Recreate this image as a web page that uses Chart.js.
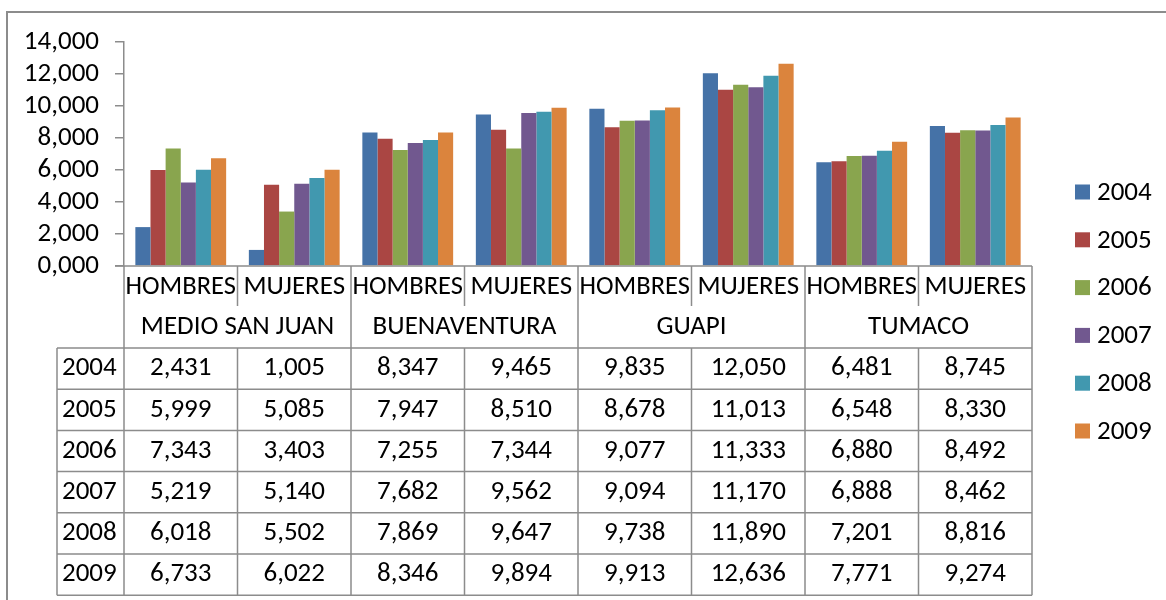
<!DOCTYPE html>
<html>
<head>
<meta charset="utf-8">
<script src="https://cdn.jsdelivr.net/npm/chart.js@4.4.0/dist/chart.umd.min.js"></script>
<style>
	body { margin: 0; background: #fff; }
	canvas { display: block; }
</style>
</head>
<body>
<canvas id="myChart" width="1166" height="600"></canvas>
<script>
var years = ['2004', '2005', '2006', '2007', '2008', '2009'];
var categories = ['HOMBRES', 'MUJERES', 'HOMBRES', 'MUJERES', 'HOMBRES', 'MUJERES', 'HOMBRES', 'MUJERES'];
var groups = ['MEDIO SAN JUAN', 'BUENAVENTURA', 'GUAPI', 'TUMACO'];

var v2004 = [2431, 1005, 8347, 9465, 9835, 12050, 6481, 8745];
var v2005 = [5999, 5085, 7947, 8510, 8678, 11013, 6548, 8330];
var v2006 = [7343, 3403, 7255, 7344, 9077, 11333, 6880, 8492];
var v2007 = [5219, 5140, 7682, 9562, 9094, 11170, 6888, 8462];
var v2008 = [6018, 5502, 7869, 9647, 9738, 11890, 7201, 8816];
var v2009 = [6733, 6022, 8346, 9894, 9913, 12636, 7771, 9274];

var seriesValues = [v2004, v2005, v2006, v2007, v2008, v2009];
var colors = ['#4572A7', '#AA4643', '#89A54E', '#71588F', '#4198AF', '#DB843D'];

var fontFamily = "Carlito, 'Liberation Sans', Arial, sans-serif";
var lineColor = '#8c8c8c';

// 2431 -> "2,431", 0 -> "0,000"
function fmt(v) {
	var rest = String(v % 1000);
	while (rest.length < 3) rest = '0' + rest;
	return Math.floor(v / 1000) + ',' + rest;
}

var tablePlugin = {
	id: 'dataTable',
	afterDraw: function(chart) {
		var ctx = chart.ctx;
		var x = chart.scales.x;
		var area = chart.chartArea;
		var colW = (area.right - area.left) / categories.length;
		var top = area.bottom;
		var catBottom = top + 40;
		var grpBottom = 348;
		var rowH = 41.2;
		var tableBottom = grpBottom + rowH * years.length;
		var yearLeft = 57;

		ctx.save();

		// outer chart border
		ctx.strokeStyle = lineColor;
		ctx.lineWidth = 2;
		ctx.strokeRect(7, 12, 1200, 700);

		ctx.lineWidth = 1.5;
		ctx.beginPath();
		// top line of the table (axis line)
		ctx.moveTo(area.left - 9, top); ctx.lineTo(area.right, top);
		// column lines
		for (var c = 0; c <= categories.length; c++) {
			var cx = area.left + c * colW;
			if (c % 2 === 0) {
				ctx.moveTo(cx, top); ctx.lineTo(cx, tableBottom);
			} else {
				ctx.moveTo(cx, top); ctx.lineTo(cx, catBottom);
				ctx.moveTo(cx, grpBottom); ctx.lineTo(cx, tableBottom);
			}
		}
		// year column
		ctx.moveTo(yearLeft, grpBottom); ctx.lineTo(yearLeft, tableBottom);
		// row lines
		for (var r = 0; r <= years.length; r++) {
			var ry = grpBottom + r * rowH;
			ctx.moveTo(yearLeft, ry); ctx.lineTo(area.right, ry);
		}
		ctx.stroke();

		ctx.fillStyle = '#000';
		ctx.textBaseline = 'middle';
		ctx.textAlign = 'center';
		ctx.font = '27px ' + fontFamily;

		// category row
		for (var i = 0; i < categories.length; i++) {
			ctx.fillText(categories[i], x.getPixelForValue(i), top + 21, colW - 3);
		}
		// group row
		for (var g = 0; g < groups.length; g++) {
			var gx = area.left + (g * 2 + 1) * colW;
			ctx.fillText(groups[g], gx, catBottom + 21);
		}

		// data rows
		for (var s = 0; s < years.length; s++) {
			var cy = grpBottom + rowH * (s + 0.5);
			ctx.textAlign = 'left';
			ctx.fillText(years[s], 62, cy);
			ctx.textAlign = 'center';
			for (var k = 0; k < categories.length; k++) {
				ctx.fillText(fmt(seriesValues[s][k]), x.getPixelForValue(k), cy);
			}
		}

		// legend
		ctx.textAlign = 'left';
		chart.data.datasets.forEach(function(ds, j) {
			var ly = 192 + j * 47.8;
			ctx.fillStyle = ds.backgroundColor;
			ctx.fillRect(1075, ly - 7.5, 15, 15);
			ctx.fillStyle = '#000';
			ctx.fillText(ds.label, 1097, ly + 1);
		});

		ctx.restore();
	}
};

Chart.defaults.font.family = fontFamily;
Chart.defaults.color = '#000';

var ctx = document.getElementById('myChart').getContext('2d');
var chart = new Chart(ctx, {
	type: 'bar',
	data: {
		labels: categories,
		datasets: years.map(function(y, i) {
			return {
				label: y,
				data: seriesValues[i],
				backgroundColor: colors[i],
				categoryPercentage: 0.8,
				barPercentage: 1.0
			};
		})
	},
	options: {
		responsive: false,
		animation: false,
		layout: { padding: { top: 42, bottom: 334, left: 0, right: 134 } },
		plugins: {
			legend: { display: false },
			tooltip: { enabled: false }
		},
		scales: {
			x: { display: false },
			y: {
				min: 0,
				max: 14000,
				afterFit: function(scale) { scale.width = 124; },
				ticks: {
					stepSize: 2000,
					autoSkip: false,
					padding: 16,
					font: { size: 27 },
					callback: function(v) { return fmt(v); }
				},
				grid: {
					drawOnChartArea: false,
					drawTicks: true,
					tickLength: 9,
					color: lineColor,
					lineWidth: 1.5
				},
				border: { color: lineColor, width: 1.5 }
			}
		}
	},
	plugins: [tablePlugin]
});
</script>
</body>
</html>
